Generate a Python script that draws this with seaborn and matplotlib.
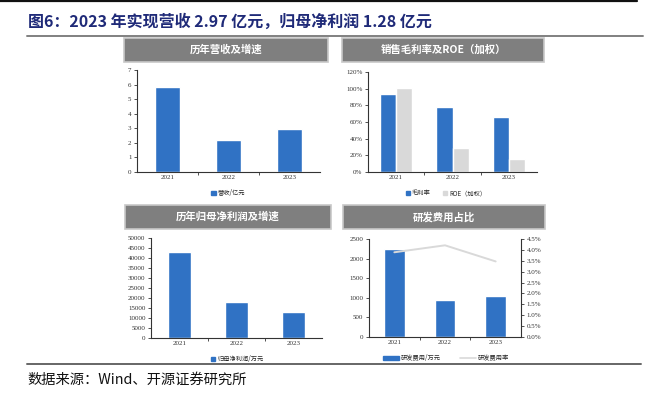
import numpy as np
import pandas as pd
import seaborn as sns
from matplotlib import pyplot as plt
from matplotlib.patches import Rectangle
from matplotlib.lines import Line2D
from matplotlib.ticker import MultipleLocator, FuncFormatter

years = ['2021', '2022', '2023']
revenue = [5.80, 2.23, 2.97]            # 营收/亿元
gross_margin = [0.932, 0.784, 0.656]    # 毛利率
roe = [1.004, 0.284, 0.162]             # ROE（加权）
net_profit = [43000, 17800, 12800]      # 归母净利润/万元
rd_expense = [2236, 939, 1034]          # 研发费用/万元
rd_ratio = [0.0389, 0.0421, 0.0347]     # 研发费用率

BLUE = '#3072C4'
GRAY = '#D9D9D9'
W, H = 645, 398
NUM_FONT = ['Liberation Serif', 'DejaVu Serif']

sns.set_theme(style='white')
plt.rcParams['font.family'] = ['Noto Sans CJK SC', 'DejaVu Sans']


def box(x0, y0, x1, y1):
    return [x0 / W, 1 - y1 / H, (x1 - x0) / W, (y1 - y0) / H]


def fig_line(fig, x0, x1, y, color, lw):
    fig.add_artist(Line2D([x0 / W, x1 / W], [1 - y / H, 1 - y / H],
                          color=color, lw=lw, transform=fig.transFigure))


def header(fig, x0, y0, x1, y1, text):
    fig.add_artist(Rectangle((x0 / W, 1 - y1 / H), (x1 - x0) / W, (y1 - y0) / H,
                             transform=fig.transFigure, facecolor='#7F7F7F',
                             edgecolor='#C8C8C8', lw=1.2))
    fig.text((x0 + x1) / 2 / W, 1 - (y0 + y1) / 2 / H, text, color='white',
             fontsize=7.5, fontweight='bold', ha='center', va='center')


def num_labels(ax, axis='both'):
    labels = []
    if axis in ('both', 'x'):
        labels += ax.get_xticklabels()
    if axis in ('both', 'y'):
        labels += ax.get_yticklabels()
    for t in labels:
        t.set_fontfamily(NUM_FONT)


def style_axes(ax):
    for s in ['top', 'right']:
        ax.spines[s].set_visible(False)
    for s in ['left', 'bottom']:
        ax.spines[s].set_color('#333333')
        ax.spines[s].set_linewidth(0.8)
    ax.set_xlim(-0.5, 2.5)
    ax.set_xlabel('')
    ax.set_ylabel('')
    ax.tick_params(axis='y', which='major', left=True, direction='out', length=2,
                   width=0.6, labelsize=5, pad=2, colors='#333333')
    ax.tick_params(axis='x', which='major', bottom=False, length=0, labelsize=5,
                   pad=2.5, colors='#333333')
    ax.set_xticks([0.5, 1.5], minor=True)
    ax.tick_params(axis='x', which='minor', bottom=True, direction='out', length=2,
                   width=0.6, color='#333333')
    ax.grid(False)
    num_labels(ax)


def add_legend(fig, items, y, cx, hl=0.7, spacing=2.0):
    fig.legend(handles=items, loc='center', bbox_to_anchor=(cx / W, 1 - y / H),
               ncol=len(items), frameon=False, fontsize=4.5, handlelength=hl,
               handleheight=0.7, handletextpad=0.3, columnspacing=spacing)


fig = plt.figure(figsize=(6.45, 3.98), dpi=100)

# 标题与分隔线
fig_line(fig, 0, 637, 1, '#111111', 1.6)
fig.text(28 / W, 1 - 22 / H, '图6：2023 年实现营收 2.97 亿元，归母净利润 1.28 亿元',
         fontsize=11.5, fontweight='bold', color='#1F2A78', ha='left', va='center')
fig_line(fig, 27, 643, 36, '#808080', 1.4)
fig_line(fig, 27, 641, 364, '#666666', 1.4)
fig.text(27 / W, 1 - 380 / H, '数据来源：Wind、开源证券研究所', fontsize=10.3,
         color='#111111', ha='left', va='center')

# --- 历年营收及增速 ---
header(fig, 124, 38, 328, 62, '历年营收及增速')
ax1 = fig.add_axes(box(137, 70, 320, 172))
df1 = pd.DataFrame({'year': years, 'value': revenue})
sns.barplot(df1, x='year', y='value', color=BLUE, width=0.41, saturation=1, ax=ax1)
ax1.set_ylim(0, 7)
ax1.yaxis.set_major_locator(MultipleLocator(1))
style_axes(ax1)
add_legend(fig, [Rectangle((0, 0), 1, 1, color=BLUE, label='营收/亿元')], 193, 228)

# --- 销售毛利率及ROE（加权） ---
header(fig, 342, 38, 544, 62, '销售毛利率及ROE（加权）')
ax2 = fig.add_axes(box(368, 72, 537, 172))
df2 = pd.DataFrame({'year': years * 2,
                    'value': gross_margin + roe,
                    'kind': ['毛利率'] * 3 + ['ROE（加权）'] * 3})
sns.barplot(df2, x='year', y='value', hue='kind', palette=[BLUE, GRAY],
            width=0.57, saturation=1, ax=ax2, legend=False)
ax2.set_ylim(0, 1.2)
ax2.yaxis.set_major_locator(MultipleLocator(0.2))
ax2.yaxis.set_major_formatter(FuncFormatter(lambda v, p: f'{v * 100:.0f}%'))
style_axes(ax2)
add_legend(fig, [Rectangle((0, 0), 1, 1, color=BLUE, label='毛利率'),
                 Rectangle((0, 0), 1, 1, color=GRAY, label='ROE（加权）')], 193, 446)

# --- 历年归母净利润及增速 ---
header(fig, 125, 205, 331, 229, '历年归母净利润及增速')
ax3 = fig.add_axes(box(151, 238, 322, 338))
df3 = pd.DataFrame({'year': years, 'value': net_profit})
sns.barplot(df3, x='year', y='value', color=BLUE, width=0.4, saturation=1, ax=ax3)
ax3.set_ylim(0, 50000)
ax3.yaxis.set_major_locator(MultipleLocator(5000))
style_axes(ax3)
add_legend(fig, [Rectangle((0, 0), 1, 1, color=BLUE, label='归母净利润/万元')], 359, 237)

# --- 研发费用占比 ---
header(fig, 343, 205, 545, 229, '研发费用占比')
ax4 = fig.add_axes(box(369, 239, 521, 337))
df4 = pd.DataFrame({'year': years, 'value': rd_expense, 'ratio': rd_ratio})
sns.barplot(df4, x='year', y='value', color=BLUE, width=0.41, saturation=1, ax=ax4)
ax4.set_ylim(0, 2500)
ax4.yaxis.set_major_locator(MultipleLocator(500))
style_axes(ax4)
ax4b = ax4.twinx()
sns.lineplot(df4, x='year', y='ratio', color=GRAY, lw=1.4, ax=ax4b, sort=False)
ax4b.set_ylim(0, 0.045)
ax4b.yaxis.set_major_locator(MultipleLocator(0.005))
ax4b.yaxis.set_major_formatter(FuncFormatter(lambda v, p: f'{v * 100:.1f}%'))
for s in ['top', 'left', 'bottom']:
    ax4b.spines[s].set_visible(False)
ax4b.spines['right'].set_color('#333333')
ax4b.spines['right'].set_linewidth(0.8)
ax4b.set_ylabel('')
ax4b.tick_params(axis='y', right=True, direction='out', length=2, width=0.6,
                 labelsize=5, pad=2, colors='#333333')
ax4b.grid(False)
num_labels(ax4b, 'y')
add_legend(fig, [Rectangle((0, 0), 1, 1, color=BLUE, label='研发费用/万元'),
                 Line2D([0], [0], color=GRAY, lw=1.2, label='研发费用率')],
           358, 446, hl=2.6, spacing=3.0)

fig.savefig('out.png', dpi=100)
